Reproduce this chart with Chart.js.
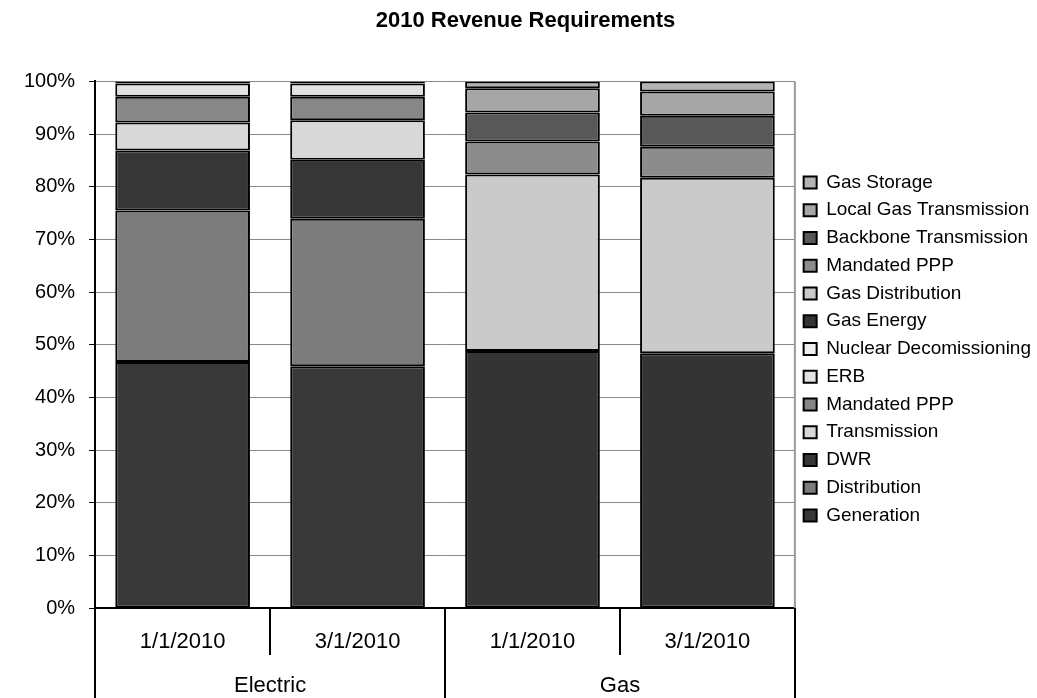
<!DOCTYPE html>
<html>
<head>
<meta charset="utf-8">
<script src="https://cdn.jsdelivr.net/npm/chart.js@4/dist/chart.umd.min.js"></script>
<style>
  html, body { margin: 0; padding: 0; background: #fff; }
  #wrap { width: 1037px; height: 698px; }
</style>
</head>
<body>
<div id="wrap"><canvas id="revChart"></canvas></div>
<script>
// categories on the x axis (two per group)
const categories = ["1/1/2010", "3/1/2010", "1/1/2010", "3/1/2010"];
const groups = ["Electric", "Gas"];

// share of revenue requirement, in percent: [Elec 1/1, Elec 3/1, Gas 1/1, Gas 3/1]
const generation      = [46.7, 45.9, null, null];
const distribution    = [28.8, 28.0, null, null];
const dwr             = [11.4, 11.2, null, null];
const transmission    = [5.3, 7.5, null, null];
const mandatedPPP     = [4.9, 4.5, null, null];
const erb             = [2.5, 2.5, null, null];
const nuclearDecom    = [0.4, 0.4, null, null];
const gasEnergy       = [null, null, 48.8, 48.4];
const gasDistribution = [null, null, 33.5, 33.3];
const gasMandatedPPP  = [null, null, 6.3, 5.9];
const backboneTrans   = [null, null, 5.5, 5.9];
const localGasTrans   = [null, null, 4.6, 4.6];
const gasStorage      = [null, null, 1.3, 1.9];

const yTicks = [0, 10, 20, 30, 40, 50, 60, 70, 80, 90, 100];

const FONT = "'Liberation Sans', Arial, sans-serif";

function ds(label, data, color) {
  return {
    label: label,
    data: data,
    backgroundColor: color,
    borderColor: "#000",
    borderWidth: 2,
    borderSkipped: false,
    categoryPercentage: 1.0,
    barPercentage: 0.77
  };
}

// thin gray frame on the right side of the plot
const plotFrame = {
  id: "plotFrame",
  beforeDatasetsDraw(chart) {
    const { ctx, chartArea } = chart;
    ctx.save();
    ctx.strokeStyle = "#9a9a9a";
    ctx.lineWidth = 2;
    ctx.beginPath();
    ctx.moveTo(chartArea.right, chartArea.top);
    ctx.lineTo(chartArea.right, chartArea.bottom);
    ctx.stroke();
    ctx.restore();
  }
};

const ctx = document.getElementById("revChart").getContext("2d");

new Chart(ctx, {
  type: "bar",
  data: {
    labels: categories,
    datasets: [
      ds("Generation", generation, "#383838"),
      ds("Distribution", distribution, "#7c7c7c"),
      ds("DWR", dwr, "#363636"),
      ds("Transmission", transmission, "#d8d8d8"),
      ds("Mandated PPP", mandatedPPP, "#878787"),
      ds("ERB", erb, "#e2e2e2"),
      ds("Nuclear Decomissioning", nuclearDecom, "#efefef"),
      ds("Gas Energy", gasEnergy, "#343434"),
      ds("Gas Distribution", gasDistribution, "#cacaca"),
      ds("Mandated PPP", gasMandatedPPP, "#8c8c8c"),
      ds("Backbone Transmission", backboneTrans, "#585858"),
      ds("Local Gas Transmission", localGasTrans, "#a6a6a6"),
      ds("Gas Storage", gasStorage, "#b3b3b3")
    ]
  },
  plugins: [plotFrame],
  options: {
    responsive: true,
    maintainAspectRatio: false,
    animation: false,
    layout: { padding: { top: 0, right: -4, left: 10, bottom: 0 } },
    plugins: {
      title: {
        display: true,
        text: "2010 Revenue Requirements",
        color: "#000",
        font: { family: FONT, size: 22, weight: "bold" },
        padding: { top: 8, bottom: 47 }
      },
      legend: {
        position: "right",
        reverse: true,
        labels: {
          color: "#000",
          font: { family: FONT, size: 19 },
          boxWidth: 13,
          boxHeight: 12,
          padding: 8.75
        }
      },
      tooltip: { enabled: false }
    },
    scales: {
      x: {
        stacked: true,
        offset: true,
        grid: { offset: true, drawOnChartArea: false, color: "#000", lineWidth: 2, tickLength: 47 },
        border: { color: "#000", width: 2 },
        ticks: { color: "#000", font: { family: FONT, size: 22 }, padding: -26, maxRotation: 0 },
        afterFit: s => { s.height = 47; }
      },
      x2: {
        type: "category",
        labels: groups,
        position: "bottom",
        offset: true,
        grid: { offset: true, drawOnChartArea: false, color: "#000", lineWidth: 2, tickLength: 43 },
        border: { display: false },
        ticks: { color: "#000", font: { family: FONT, size: 22 }, padding: -25, maxRotation: 0 },
        afterFit: s => { s.height = 43; }
      },
      y: {
        stacked: true,
        min: 0,
        max: 100,
        afterBuildTicks: s => { s.ticks = yTicks.map(v => ({ value: v })); },
        grid: { color: "#8a8a8a", lineWidth: 1, tickColor: "#000", tickLength: 6 },
        border: { color: "#000", width: 2 },
        ticks: {
          color: "#000",
          font: { family: FONT, size: 20 },
          padding: 14,
          callback: v => v + "%"
        }
      }
    }
  }
});
</script>
</body>
</html>
